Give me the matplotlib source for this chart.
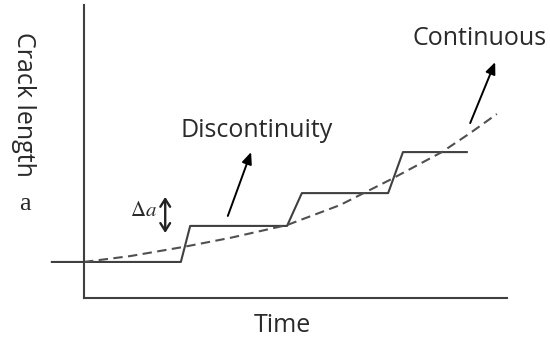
import matplotlib
matplotlib.use("Agg")
import matplotlib.pyplot as plt

# Discontinuous (stepwise) crack growth
step_time = [-7.6, 22.9, 25.1, 48.0, 51.5, 71.9, 75.4, 90.5]
step_crack = [12.3, 12.3, 24.6, 24.6, 35.8, 35.8, 49.8, 49.8]

# Continuous crack growth (dashed curve)
cont_time = [0, 10.9, 23.4, 34.5, 48.0, 60.5, 72.3, 84.6, 91.3, 97.6]
cont_crack = [12.3, 14.3, 17.4, 20.5, 24.9, 31.7, 40.3, 49.8, 56.3, 62.8]

col = "#404040"
tcol = "#2a2a2a"
fam = ["Open Sans", "DejaVu Sans"]

fig = plt.figure(figsize=(5.5, 3.4), dpi=100)
ax = fig.add_axes([84 / 550, 42 / 340, 423 / 550, 293 / 340])
ax.set_xlim(0, 100)
ax.set_ylim(0, 100)
for s in ["top", "right"]:
    ax.spines[s].set_visible(False)
for s in ["left", "bottom"]:
    ax.spines[s].set_color(col)
    ax.spines[s].set_linewidth(1.5)
ax.set_xticks([])
ax.set_yticks([])

ax.plot(step_time, step_crack, color=col, lw=1.5, clip_on=False)
ax.plot(cont_time, cont_crack, color="#505050", lw=1.5, ls=(0, (4.5, 2.6)), clip_on=False)

arrowprops = dict(arrowstyle="-|>,head_length=0.7,head_width=0.3", color="black", lw=1.4,
                  shrinkA=0, shrinkB=0)
ax.annotate("", xy=(39.5, 49.8), xytext=(34.0, 28.0), arrowprops=arrowprops)
ax.annotate("", xy=(97.2, 80.5), xytext=(91.3, 59.7), arrowprops=arrowprops)
ax.annotate("", xy=(19.2, 34.5), xytext=(19.2, 22.2),
            arrowprops=dict(arrowstyle="<->,head_length=0.55,head_width=0.35", color="#222222",
                            lw=1.7, shrinkA=0, shrinkB=0))

ax.text(40.9, 57.3, "Discontinuity", ha="center", va="center", fontsize=18, family=fam, color=tcol)
ax.text(93.4, 88.7, "Continuous", ha="center", va="center", fontsize=18, family=fam, color=tcol)
ax.text(14.0, 30.0, r"$\Delta a$", ha="center", va="center", fontsize=15, color=tcol,
        math_fontfamily="stix")

fig.text(23 / 550, 1 - 104 / 340, "Crack length", rotation=-90, ha="center", va="center",
         fontsize=18, family=fam, color=tcol)
fig.text(25 / 550, 1 - 204 / 340, "a", ha="center", va="center", fontsize=19,
         family=["Liberation Serif", "DejaVu Serif"], color=tcol)
fig.text(282 / 550, 1 - 326 / 340, "Time", ha="center", va="center", fontsize=18, family=fam,
         color=tcol)

fig.savefig("out.png", dpi=100)
